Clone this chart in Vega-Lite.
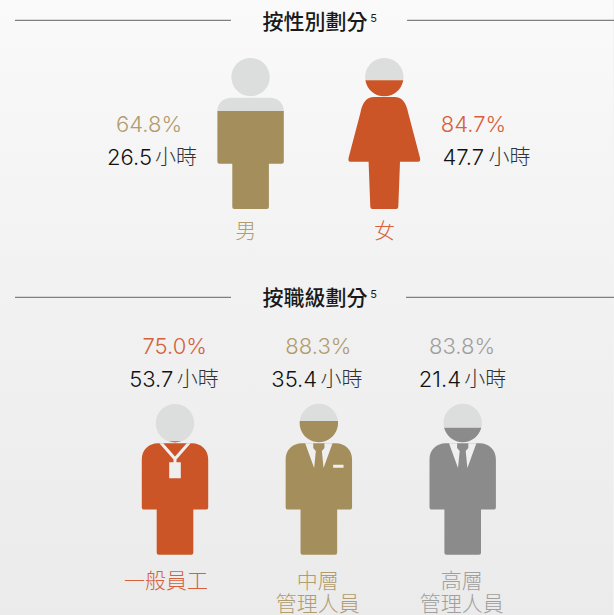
{
"$schema":"https://vega.github.io/schema/vega-lite/v6.json",
"width":614,"height":615,"padding":0,
"autosize":{"type":"fit","contains":"padding"},
"background":"#f3f3f3",
"view":{"stroke":null,"fill":{"gradient":"linear","x1":0,"y1":0,"x2":0,"y2":1,"stops":[{"offset":0,"color":"#fafafa"},{"offset":0.25,"color":"#f5f5f5"},{"offset":0.6,"color":"#f0f0f0"},{"offset":1,"color":"#ebebeb"}]}},
"datasets":{
"gender":[
{"group":"性別","category":"男","label":"男","share":0.648,"hours":26.5,"unit":"小時"},
{"group":"性別","category":"女","label":"女","share":0.847,"hours":47.7,"unit":"小時"}],
"grade":[
{"group":"職級","category":"一般員工","label":"一般員工","share":0.75,"hours":53.7,"unit":"小時"},
{"group":"職級","category":"中層管理人員","label":"中層\n管理人員","share":0.883,"hours":35.4,"unit":"小時"},
{"group":"職級","category":"高層管理人員","label":"高層\n管理人員","share":0.838,"hours":21.4,"unit":"小時"}],
"sections":[
{"group":"性別","title":"按性別劃分","note":"5"},
{"group":"職級","title":"按職級劃分","note":"5"}],
"dividers":[
{"group":"性別","from":0.0244,"to":0.3762},
{"group":"性別","from":0.663,"to":1},
{"group":"職級","from":0.0244,"to":0.3762},
{"group":"職級","from":0.6612,"to":1}]
},
"resolve":{"scale":{"x":"independent","y":"independent","color":"independent","shape":"independent"}},
"config":{"text":{"font":"Inter, Noto Sans CJK TC"}},
"layer":[
{"data":{"name":"dividers"},"mark":{"type":"rule","color":"#808080","strokeWidth":1.2},
"encoding":{"x":{"field":"from","type":"quantitative","axis":null,"scale":{"domain":[0,1],"range":[0,614],"nice":false,"zero":false}},"x2":{"field":"to"},
"y":{"field":"group","type":"nominal","axis":null,"scale":{"type":"point","padding":0,"domain":["性別","職級"],"range":[20.4,297.4]}}}},
{"data":{"name":"sections"},"mark":{"type":"text","fontSize":21,"fontWeight":500,"color":"#1a1a1a","align":"center","baseline":"alphabetic","font":"Noto Sans CJK TC"},
"encoding":{"text":{"field":"title"},"x":{"field":"group","type":"nominal","axis":null,"scale":{"type":"point","padding":0,"domain":["性別","職級"],"range":[315,315]}},
"y":{"field":"group","type":"nominal","axis":null,"scale":{"type":"point","padding":0,"domain":["性別","職級"],"range":[28.5,304.5]}}}},
{"data":{"name":"sections"},"mark":{"type":"text","fontSize":11,"color":"#1a1a1a","align":"center","baseline":"alphabetic"},
"encoding":{"text":{"field":"note"},"x":{"field":"group","type":"nominal","axis":null,"scale":{"type":"point","padding":0,"domain":["性別","職級"],"range":[373.5,373.5]}},
"y":{"field":"group","type":"nominal","axis":null,"scale":{"type":"point","padding":0,"domain":["性別","職級"],"range":[21.5,298]}}}},

{"data":{"name":"gender"},"mark":{"type":"point","filled":true,"size":4,"opacity":1,"strokeWidth":0,"color":"#dcdedd"},
"encoding":{"x":{"field":"category","type":"nominal","axis":null,"scale":{"type":"point","padding":0,"domain":["男","女"],"range":[250.6,384.3]}},
"y":{"field":"group","type":"nominal","axis":null,"scale":{"type":"point","padding":0,"domain":["性別","職級"],"range":[57.7,403.5]}},
"shape":{"field":"category","type":"nominal","legend":null,"scale":{"domain":["男","女"],"range":[
"M-19.2 19.4A19.2 19.2 0 1 1 19.2 19.4A19.2 19.2 0 1 1 -19.2 19.4ZM-33.2 53.2C-33.2 45 -27 40 -19 40L19 40C27 40 33.2 45 33.2 53.2Z",
"M-18.95 22.5A19.2 19.2 0 1 1 18.95 22.5Z"]}}}},
{"data":{"name":"gender"},"mark":{"type":"point","filled":true,"size":4,"opacity":1,"strokeWidth":0},
"encoding":{"x":{"field":"category","type":"nominal","axis":null,"scale":{"type":"point","padding":0,"domain":["男","女"],"range":[250.6,384.3]}},
"y":{"field":"group","type":"nominal","axis":null,"scale":{"type":"point","padding":0,"domain":["性別","職級"],"range":[57.7,403.5]}},
"color":{"field":"category","type":"nominal","legend":null,"scale":{"domain":["男","女"],"range":["#a38e5c","#cb5527"]}},
"shape":{"field":"category","type":"nominal","legend":null,"scale":{"domain":["男","女"],"range":[
"M-33.2 53.2L33.2 53.2L33.2 104Q33.2 106 31.2 106L18.3 106L18.3 149.3Q18.3 151.3 16.3 151.3L-16.3 151.3Q-18.3 151.3 -18.3 149.3L-18.3 106L-31.2 106Q-33.2 106 -33.2 104Z",
"M-18.95 22.5L18.95 22.5A19.2 19.2 0 0 1 -18.95 22.5ZM-10 39.3L10 39.3C18 39.3 22 45 24 55.6L35.7 100Q36.5 104 34 104L15.7 104L14 149Q13.8 151.3 12 151.3L-12 151.3Q-13.8 151.3 -14 149L-15.7 104L-34 104Q-36.5 104 -35.7 100L-24 55.6C-22 45 -18 39.3 -10 39.3Z"]}}}},

{"data":{"name":"grade"},"mark":{"type":"point","filled":true,"size":4,"opacity":1,"strokeWidth":0,"color":"#dcdedd"},
"encoding":{"x":{"field":"category","type":"nominal","axis":null,"scale":{"type":"point","padding":0,"domain":["一般員工","中層管理人員","高層管理人員"],"range":[175,462.7]}},
"y":{"field":"group","type":"nominal","axis":null,"scale":{"type":"point","padding":0,"domain":["性別","職級"],"range":[57.7,403.5]}},
"shape":{"field":"category","type":"nominal","legend":null,"scale":{"domain":["一般員工","中層管理人員","高層管理人員"],"range":[
"M-6.4 37.8A19.2 19.2 0 1 1 6.4 37.8Z",
"M-19.1 17.5A19.2 19.2 0 0 1 19.1 17.5Z",
"M-18.6 24.2A19.2 19.2 0 1 1 18.6 24.2Z"]}}}},
{"data":{"name":"grade"},"mark":{"type":"point","filled":true,"size":4,"opacity":1,"strokeWidth":0},
"encoding":{"x":{"field":"category","type":"nominal","axis":null,"scale":{"type":"point","padding":0,"domain":["一般員工","中層管理人員","高層管理人員"],"range":[175,462.7]}},
"y":{"field":"group","type":"nominal","axis":null,"scale":{"type":"point","padding":0,"domain":["性別","職級"],"range":[57.7,403.5]}},
"color":{"field":"category","type":"nominal","legend":null,"scale":{"domain":["一般員工","中層管理人員","高層管理人員"],"range":["#cb5527","#a38e5c","#8b8b8b"]}},
"shape":{"field":"category","type":"nominal","legend":null,"scale":{"domain":["一般員工","中層管理人員","高層管理人員"],"range":[
"M-6.4 37.8L6.4 37.8A19.2 19.2 0 0 1 -6.4 37.8ZM-33.2 56C-33.2 46 -26 39.7 -17 39.7L17 39.7C26 39.7 33.2 46 33.2 56L33.2 104Q33.2 106 31.2 106L18.3 106L18.3 149.3Q18.3 151.3 16.3 151.3L-16.3 151.3Q-18.3 151.3 -18.3 149.3L-18.3 106L-31.2 106Q-33.2 106 -33.2 104Z",
"M-19.1 17.5L19.1 17.5A19.2 19.2 0 1 1 -19.1 17.5ZM-33.2 56C-33.2 46 -26 39.7 -17 39.7L17 39.7C26 39.7 33.2 46 33.2 56L33.2 104Q33.2 106 31.2 106L18.3 106L18.3 149.3Q18.3 151.3 16.3 151.3L-16.3 151.3Q-18.3 151.3 -18.3 149.3L-18.3 106L-31.2 106Q-33.2 106 -33.2 104Z",
"M-18.6 24.2L18.6 24.2A19.2 19.2 0 0 1 -18.6 24.2ZM-33.2 56C-33.2 46 -26 39.7 -17 39.7L17 39.7C26 39.7 33.2 46 33.2 56L33.2 104Q33.2 106 31.2 106L18.3 106L18.3 149.3Q18.3 151.3 16.3 151.3L-16.3 151.3Q-18.3 151.3 -18.3 149.3L-18.3 106L-31.2 106Q-33.2 106 -33.2 104Z"]}}}},
{"data":{"name":"grade"},"mark":{"type":"point","filled":true,"size":4,"opacity":1,"strokeWidth":0,"color":"#efefef"},
"encoding":{"x":{"field":"category","type":"nominal","axis":null,"scale":{"type":"point","padding":0,"domain":["一般員工","中層管理人員","高層管理人員"],"range":[175,462.7]}},
"y":{"field":"group","type":"nominal","axis":null,"scale":{"type":"point","padding":0,"domain":["性別","職級"],"range":[57.7,403.5]}},
"shape":{"field":"category","type":"nominal","legend":null,"scale":{"domain":["一般員工","中層管理人員","高層管理人員"],"range":[
"M-15.7 39.7L-11.7 39.7L0 53L11.7 39.7L15.7 39.7L1.5 56L1.5 59L-1.5 59L-1.5 56ZM-5.8 58.8L5.8 58.8L5.8 74.8L-5.8 74.8Z",
"M-13.7 39.7L-5.6 39.7L-5.6 44.5L-3 47.5L-4.7 64.5ZM13.7 39.7L5.6 39.7L5.6 44.5L3 47.5L4.7 64.5ZM14.3 61.2L24.7 61.2L24.7 64.2L14.3 64.2Z",
"M-13.7 39.7L-5.6 39.7L-5.6 44.5L-3 47.5L-4.7 64.5ZM13.7 39.7L5.6 39.7L5.6 44.5L3 47.5L4.7 64.5Z"]}}}},

{"data":{"name":"gender"},"mark":{"type":"text","fontSize":22,"fontWeight":300,"align":"center","baseline":"alphabetic"},
"encoding":{"text":{"field":"share","format":".1%"},"x":{"field":"category","type":"nominal","axis":null,"scale":{"type":"point","padding":0,"domain":["男","女"],"range":[149,473.5]}},
"y":{"field":"group","type":"nominal","axis":null,"scale":{"type":"point","padding":0,"domain":["性別","職級"],"range":[132,354]}},
"color":{"field":"category","type":"nominal","legend":null,"scale":{"domain":["男","女"],"range":["#b09c6e","#d65f3c"]}}}},
{"data":{"name":"grade"},"mark":{"type":"text","fontSize":22,"fontWeight":300,"align":"center","baseline":"alphabetic"},
"encoding":{"text":{"field":"share","format":".1%"},"x":{"field":"category","type":"nominal","axis":null,"scale":{"type":"point","padding":0,"domain":["一般員工","中層管理人員","高層管理人員"],"range":[174.7,462]}},
"y":{"field":"group","type":"nominal","axis":null,"scale":{"type":"point","padding":0,"domain":["性別","職級"],"range":[132,354]}},
"color":{"field":"category","type":"nominal","legend":null,"scale":{"domain":["一般員工","中層管理人員","高層管理人員"],"range":["#d65f3c","#b09c6e","#9f9f9f"]}}}},

{"data":{"name":"gender"},"mark":{"type":"text","fontSize":22,"fontWeight":300,"color":"#111111","align":"right","baseline":"alphabetic"},
"encoding":{"text":{"field":"hours","format":".1f"},"x":{"field":"category","type":"nominal","axis":null,"scale":{"type":"point","padding":0,"domain":["男","女"],"range":[152,484]}},
"y":{"field":"group","type":"nominal","axis":null,"scale":{"type":"point","padding":0,"domain":["性別","職級"],"range":[165,387]}}}},
{"data":{"name":"grade"},"mark":{"type":"text","fontSize":22,"fontWeight":300,"color":"#111111","align":"right","baseline":"alphabetic"},
"encoding":{"text":{"field":"hours","format":".1f"},"x":{"field":"category","type":"nominal","axis":null,"scale":{"type":"point","padding":0,"domain":["一般員工","中層管理人員","高層管理人員"],"range":[173.3,461]}},
"y":{"field":"group","type":"nominal","axis":null,"scale":{"type":"point","padding":0,"domain":["性別","職級"],"range":[165,387]}}}},
{"data":{"name":"gender"},"mark":{"type":"text","fontSize":21,"fontWeight":300,"color":"#333333","align":"left","baseline":"alphabetic","font":"Noto Sans CJK TC"},
"encoding":{"text":{"field":"unit"},"x":{"field":"category","type":"nominal","axis":null,"scale":{"type":"point","padding":0,"domain":["男","女"],"range":[155,488.5]}},
"y":{"field":"group","type":"nominal","axis":null,"scale":{"type":"point","padding":0,"domain":["性別","職級"],"range":[164,386]}}}},
{"data":{"name":"grade"},"mark":{"type":"text","fontSize":21,"fontWeight":300,"color":"#333333","align":"left","baseline":"alphabetic","font":"Noto Sans CJK TC"},
"encoding":{"text":{"field":"unit"},"x":{"field":"category","type":"nominal","axis":null,"scale":{"type":"point","padding":0,"domain":["一般員工","中層管理人員","高層管理人員"],"range":[176.7,464.3]}},
"y":{"field":"group","type":"nominal","axis":null,"scale":{"type":"point","padding":0,"domain":["性別","職級"],"range":[164,386]}}}},

{"data":{"name":"gender"},"mark":{"type":"text","fontSize":21,"fontWeight":300,"align":"center","baseline":"alphabetic","font":"Noto Sans CJK TC"},
"encoding":{"text":{"field":"label"},"x":{"field":"category","type":"nominal","axis":null,"scale":{"type":"point","padding":0,"domain":["男","女"],"range":[245.8,384.5]}},
"y":{"field":"group","type":"nominal","axis":null,"scale":{"type":"point","padding":0,"domain":["性別","職級"],"range":[238,588]}},
"color":{"field":"category","type":"nominal","legend":null,"scale":{"domain":["男","女"],"range":["#b09c6e","#d65f3c"]}}}},
{"data":{"name":"grade"},"transform":[{"filter":"datum.category === '一般員工'"}],"mark":{"type":"text","fontSize":21,"fontWeight":300,"align":"center","baseline":"alphabetic","font":"Noto Sans CJK TC","color":"#d65f3c"},
"encoding":{"text":{"field":"label"},"x":{"field":"category","type":"nominal","axis":null,"scale":{"type":"point","padding":0,"domain":["一般員工"],"range":[166,166]}},
"y":{"field":"group","type":"nominal","axis":null,"scale":{"type":"point","padding":0,"domain":["性別","職級"],"range":[238,588]}}}},
{"data":{"name":"grade"},"transform":[{"filter":"datum.category !== '一般員工'"}],"mark":{"type":"text","fontSize":21,"fontWeight":300,"align":"center","baseline":"alphabetic","font":"Noto Sans CJK TC","lineBreak":"\n","lineHeight":23},
"encoding":{"text":{"field":"label"},"x":{"field":"category","type":"nominal","axis":null,"scale":{"type":"point","padding":0,"domain":["中層管理人員","高層管理人員"],"range":[317.8,461.8]}},
"y":{"field":"group","type":"nominal","axis":null,"scale":{"type":"point","padding":0,"domain":["性別","職級"],"range":[238,588]}},
"color":{"field":"category","type":"nominal","legend":null,"scale":{"domain":["中層管理人員","高層管理人員"],"range":["#b09c6e","#9f9f9f"]}}}}
]
}
